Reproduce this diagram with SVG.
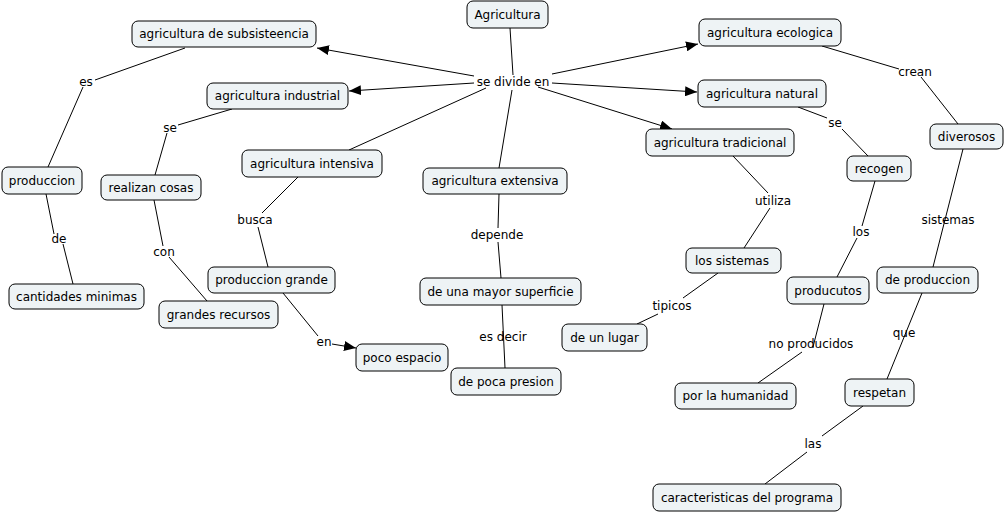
<svg xmlns="http://www.w3.org/2000/svg" width="1005" height="514" viewBox="0 0 1005 514">
<defs>
<style>
.n rect{fill:#eef3f5;stroke:#000;stroke-width:1}
text{font-family:"DejaVu Sans",Verdana,sans-serif;font-size:12px;fill:#000;text-anchor:middle}
.c line{stroke:#000;stroke-width:1}
.a{marker-end:url(#ar)}
</style>
<marker id="ar" viewBox="0 0 12 10" refX="12" refY="5" markerWidth="12" markerHeight="10" markerUnits="userSpaceOnUse" orient="auto">
<path d="M0,0 L12,5 L0,10 z" fill="#000"/>
</marker>
</defs>
<rect width="1005" height="514" fill="#fff"/>
<g class="c" id="connectors">
<line x1="510" y1="28" x2="513" y2="75"/>
<line x1="512" y1="90" x2="499" y2="168"/>
<line class="a" x1="474" y1="76" x2="317" y2="48"/>
<line class="a" x1="474" y1="83" x2="349" y2="91"/>
<line x1="486" y1="88" x2="349" y2="150"/>
<line class="a" x1="552" y1="74" x2="698" y2="44"/>
<line class="a" x1="552" y1="83" x2="697" y2="92"/>
<line class="a" x1="538" y1="87" x2="672" y2="129"/>
<line x1="185" y1="48" x2="95" y2="80"/>
<line x1="83" y1="87" x2="48" y2="167"/>
<line x1="46" y1="194" x2="54" y2="234"/>
<line x1="63" y1="244" x2="73" y2="284"/>
<line x1="232" y1="109" x2="178" y2="125"/>
<line x1="167" y1="133" x2="155" y2="175"/>
<line x1="154" y1="200" x2="163" y2="246"/>
<line x1="169" y1="257" x2="207" y2="301"/>
<line x1="298" y1="177" x2="262" y2="213"/>
<line x1="258" y1="227" x2="268" y2="267"/>
<line x1="283" y1="293" x2="318" y2="336"/>
<line class="a" x1="332" y1="344" x2="356" y2="348"/>
<line x1="499" y1="194" x2="498" y2="228"/>
<line x1="498" y1="242" x2="501" y2="278"/>
<line x1="502" y1="305" x2="505" y2="368"/>
<line x1="733" y1="156" x2="768" y2="193"/>
<line x1="770" y1="208" x2="744" y2="248"/>
<line x1="718" y1="273" x2="683" y2="298"/>
<line x1="658" y1="314" x2="637" y2="324"/>
<line x1="798" y1="107" x2="827" y2="118"/>
<line x1="842" y1="129" x2="868" y2="156"/>
<line x1="875" y1="181" x2="862" y2="226"/>
<line x1="857" y1="238" x2="837" y2="277"/>
<line x1="824" y1="304" x2="813" y2="347"/>
<line x1="802" y1="352" x2="758" y2="383"/>
<line x1="822" y1="46" x2="899" y2="69"/>
<line x1="921" y1="77" x2="958" y2="124"/>
<line x1="963" y1="149" x2="933" y2="267"/>
<line x1="922" y1="293" x2="887" y2="379"/>
<line x1="863" y1="406" x2="822" y2="436"/>
<line x1="807" y1="452" x2="765" y2="484"/>
</g>
<g id="labels">
<text x="513" y="86">se divide en</text>
<text x="86" y="86">es</text>
<text x="170" y="132">se</text>
<text x="59" y="243">de</text>
<text x="164" y="256">con</text>
<text x="255" y="224">busca</text>
<text x="324" y="346">en</text>
<text x="497" y="239">depende</text>
<text x="503" y="341">es decir</text>
<text x="773" y="205">utiliza</text>
<text x="672" y="310">tipicos</text>
<text x="811" y="348">no producidos</text>
<text x="915" y="76">crean</text>
<text x="835" y="127">se</text>
<text x="861" y="236">los</text>
<text x="948" y="224">sistemas</text>
<text x="904" y="337">que</text>
<text x="813" y="448">las</text>
</g>
<g class="n" id="n-agricultura"><rect x="467" y="1" width="81" height="27" rx="6"/><text x="507.5" y="18.5">Agricultura</text></g>
<g class="n" id="n-subsistencia"><rect x="132" y="21" width="184" height="26" rx="6"/><text x="224" y="38">agricultura de subsisteencia</text></g>
<g class="n" id="n-industrial"><rect x="207" y="83" width="141" height="26" rx="6"/><text x="277.5" y="100">agricultura industrial</text></g>
<g class="n" id="n-produccion"><rect x="2" y="167" width="80" height="27" rx="6"/><text x="42" y="184.5">produccion</text></g>
<g class="n" id="n-realizan"><rect x="101" y="175" width="100" height="25" rx="6"/><text x="151" y="191.5">realizan cosas</text></g>
<g class="n" id="n-intensiva"><rect x="242" y="150" width="140" height="27" rx="6"/><text x="312" y="167.5">agricultura intensiva</text></g>
<g class="n" id="n-cantidades"><rect x="9" y="284" width="135" height="25" rx="6"/><text x="76.5" y="300.5">cantidades minimas</text></g>
<g class="n" id="n-recursos"><rect x="159" y="301" width="119" height="27" rx="6"/><text x="218.5" y="318.5">grandes recursos</text></g>
<g class="n" id="n-prodgrande"><rect x="208" y="267" width="127" height="26" rx="6"/><text x="271.5" y="284">produccion grande</text></g>
<g class="n" id="n-espacio"><rect x="356" y="344" width="92" height="27" rx="6"/><text x="402" y="361.5">poco espacio</text></g>
<g class="n" id="n-extensiva"><rect x="423" y="168" width="144" height="26" rx="6"/><text x="495" y="185">agricultura extensiva</text></g>
<g class="n" id="n-superficie"><rect x="420" y="278" width="161" height="27" rx="6"/><text x="500.5" y="295.5">de una mayor superficie</text></g>
<g class="n" id="n-presion"><rect x="451" y="368" width="110" height="27" rx="6"/><text x="506" y="385.5">de poca presion</text></g>
<g class="n" id="n-lugar"><rect x="562" y="324" width="85" height="27" rx="6"/><text x="604.5" y="341.5">de un lugar</text></g>
<g class="n" id="n-ecologica"><rect x="699" y="19" width="142" height="27" rx="6"/><text x="770" y="36.5">agricultura ecologica</text></g>
<g class="n" id="n-natural"><rect x="698" y="80" width="128" height="27" rx="6"/><text x="762" y="97.5">agricultura natural</text></g>
<g class="n" id="n-tradicional"><rect x="646" y="129" width="148" height="27" rx="6"/><text x="720" y="146.5">agricultura tradicional</text></g>
<g class="n" id="n-diverosos"><rect x="930" y="124" width="73" height="25" rx="6"/><text x="966.5" y="140.5">diverosos</text></g>
<g class="n" id="n-recogen"><rect x="847" y="156" width="64" height="25" rx="6"/><text x="879" y="172.5">recogen</text></g>
<g class="n" id="n-sistemas"><rect x="686" y="248" width="95" height="25" rx="6"/><text x="732" y="264.5">los sistemas</text></g>
<g class="n" id="n-producutos"><rect x="787" y="277" width="82" height="27" rx="6"/><text x="828" y="294.5">producutos</text></g>
<g class="n" id="n-deproduccion"><rect x="877" y="267" width="101" height="26" rx="6"/><text x="927.5" y="284">de produccion</text></g>
<g class="n" id="n-humanidad"><rect x="675" y="383" width="121" height="26" rx="6"/><text x="735.5" y="400">por la humanidad</text></g>
<g class="n" id="n-respetan"><rect x="845" y="379" width="69" height="27" rx="6"/><text x="879.5" y="396.5">respetan</text></g>
<g class="n" id="n-caracteristicas"><rect x="653" y="484" width="188" height="27" rx="6"/><text x="747" y="501.5">caracteristicas del programa</text></g>
</svg>
